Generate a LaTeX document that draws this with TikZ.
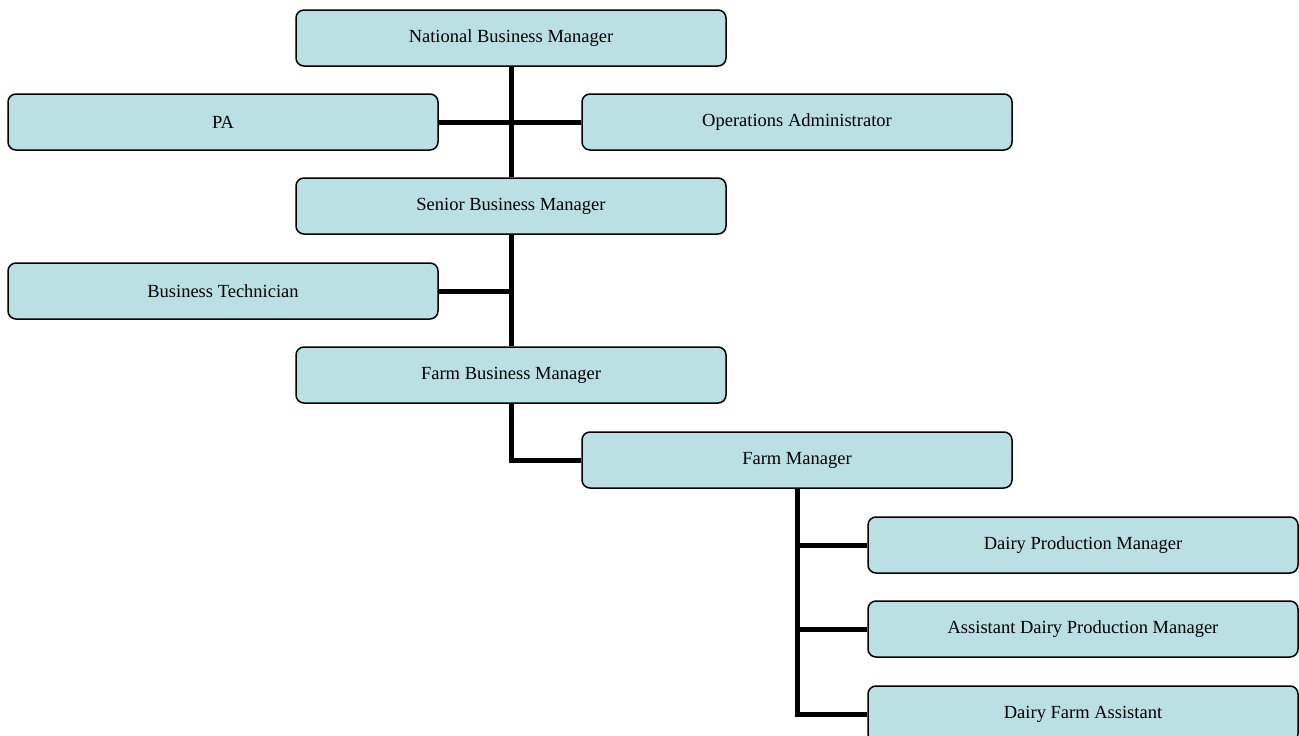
\documentclass[tikz,border=0pt]{standalone}
\usepackage{fontspec}
\setmainfont{Liberation Serif}
\definecolor{boxfill}{RGB}{187,224,227}
\tikzset{
  orgbox/.style={draw=black, line width=1.5pt, fill=boxfill, rounded corners=8pt,
    minimum width=430pt, minimum height=56pt, inner sep=0pt,
    font=\fontsize{18.5pt}{22pt}\selectfont},
  link/.style={draw=black, line width=5pt}
}
\begin{document}
\begin{tikzpicture}[x=1pt,y=-1pt]
\useasboundingbox (0,0) rectangle (1299,736);
\clip (0,0) rectangle (1299,736);
\node[orgbox] (nbm) at (511,38) {National Business Manager};
\node[orgbox] (pa) at (223,122) {PA};
\node[orgbox] (ops) at (797,122) {Operations Administrator};
\node[orgbox] (sbm) at (511,206) {Senior Business Manager};
\node[orgbox] (bt) at (223,291) {Business Technician};
\node[orgbox] (fbm) at (511,375) {Farm Business Manager};
\node[orgbox] (fm) at (797,460) {Farm Manager};
\node[orgbox] (dpm) at (1083,545) {Dairy Production Manager};
\node[orgbox] (adpm) at (1083,629) {Assistant Dairy Production Manager};
\node[orgbox] (dfa) at (1083,714) {Dairy Farm Assistant};
\begin{scope}[on background layer/.try]
\end{scope}
\draw[link] (nbm.south) -- (sbm.north);
\draw[link] (pa.east) -- (ops.west);
\draw[link] (sbm.south) -- (fbm.north);
\draw[link] (bt.east) -- (bt.east -| sbm.south);
\draw[link] (fbm.south) |- (fm.west);
\draw[link] (fm.south) |- (dfa.west);
\draw[link] (dpm.west) -- (dpm.west -| fm.south);
\draw[link] (adpm.west) -- (adpm.west -| fm.south);
\end{tikzpicture}
\end{document}
